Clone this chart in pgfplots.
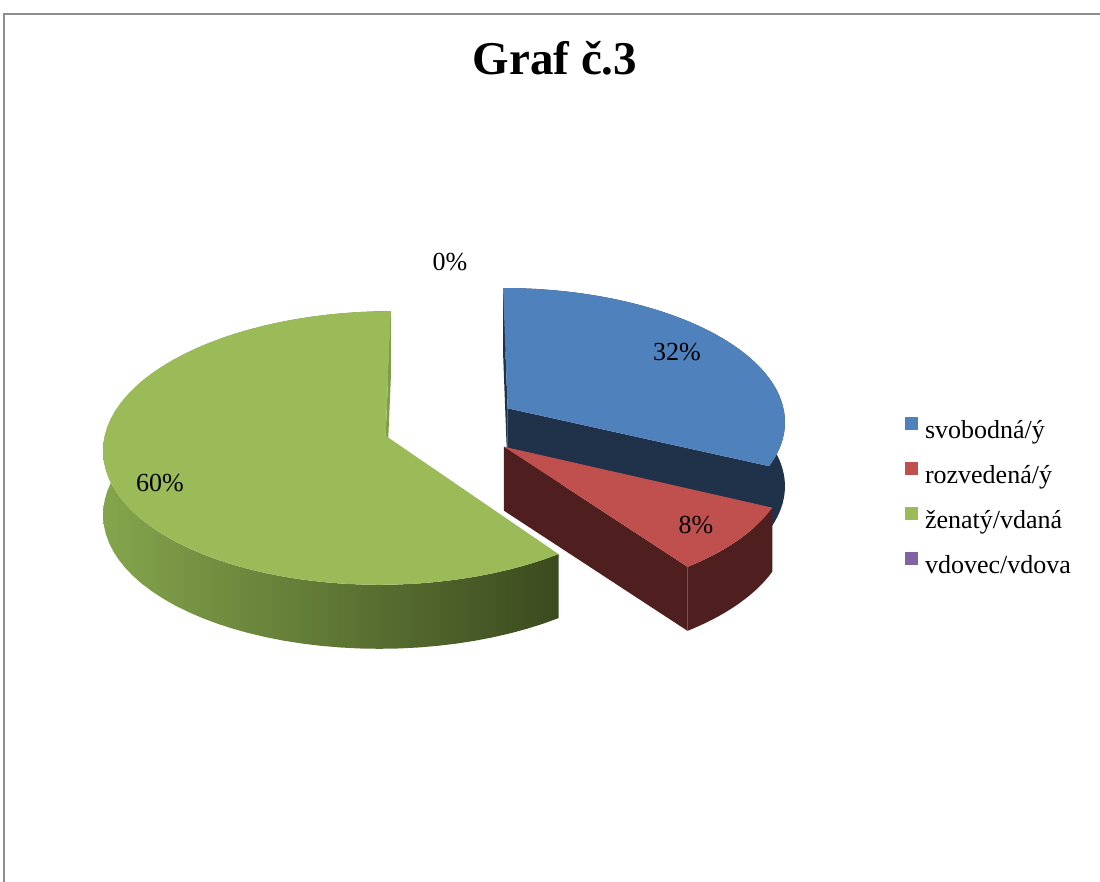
\documentclass[border=0pt]{standalone}
\usepackage{fontspec}
\setmainfont{Liberation Serif}
\usepackage{pgfplots}
\usepackage{pgfplotstable}
\pgfplotsset{compat=1.18}
\definecolor{cblue}{HTML}{4F81BD}
\definecolor{cred}{HTML}{C0504D}
\definecolor{cgreen}{HTML}{9BBB59}
\definecolor{cpurple}{HTML}{8064A2}
\definecolor{dblue}{HTML}{1F324A}
\definecolor{dred}{HTML}{4F1F1F}
\definecolor{gleft}{HTML}{84A54C}
\definecolor{gright}{HTML}{3B4A1E}
\definecolor{gsliver}{HTML}{7F9C47}
\definecolor{framec}{HTML}{8E8E8E}

\pgfplotstableread{
label value
svobodna 32
rozvedena 8
zenaty 60
vdovec 0
}\piedata

\pgfplotstablegetelem{0}{value}\of\piedata \pgfmathsetmacro\vA{\pgfplotsretval}
\pgfplotstablegetelem{1}{value}\of\piedata \pgfmathsetmacro\vB{\pgfplotsretval}
\pgfplotstablegetelem{2}{value}\of\piedata \pgfmathsetmacro\vC{\pgfplotsretval}
\pgfplotstablegetelem{3}{value}\of\piedata \pgfmathsetmacro\vD{\pgfplotsretval}
\pgfmathsetmacro\aA{0}
\pgfmathsetmacro\aB{3.6*\vA}
\pgfmathsetmacro\aC{3.6*(\vA+\vB)}
\pgfmathsetmacro\aD{3.6*(\vA+\vB+\vC)}
\def\Kx{0.244}
\pgfmathsetmacro\xA{\Kx*sin((\aA+\aB)/2)}\pgfmathsetmacro\yA{\Kx*cos((\aA+\aB)/2)}
\pgfmathsetmacro\xB{\Kx*sin((\aB+\aC)/2)}\pgfmathsetmacro\yB{\Kx*cos((\aB+\aC)/2)}
\pgfmathsetmacro\xC{\Kx*sin((\aC+\aD)/2)}\pgfmathsetmacro\yC{\Kx*cos((\aC+\aD)/2)}
\def\Dp{64}

% sample lists
\def\wallsamples{0}
\foreach \i in {1,...,60}{\pgfmathsetmacro\v{\i/60}\xdef\wallsamples{\wallsamples,\v}}
\xdef\wallsamples{\wallsamples,1.00001}
\foreach \i in {1,...,60}{\pgfmathsetmacro\v{1+\i/60}\xdef\wallsamples{\wallsamples,\v}}
\def\topsamples{-1,0}
\foreach \i in {1,...,60}{\pgfmathsetmacro\v{\i/60}\xdef\topsamples{\topsamples,\v}}

% #1 ta, #2 tb, #3 ox, #4 oy, #5 style
\newcommand\wall[5]{%
\addplot[forget plot, draw=none, #5, samples at=\wallsamples, variable=\s]
 ({PX(#3+sin(#1+(#2-#1)*min(\s,2-\s)), #4+cos(#1+(#2-#1)*min(\s,2-\s)))},
  {PY(#3+sin(#1+(#2-#1)*min(\s,2-\s)), #4+cos(#1+(#2-#1)*min(\s,2-\s))) + \Dp*(\s>1)}) -- cycle;
}
% #1 th, #2 ox, #3 oy, #4 colour
\newcommand\radial[4]{%
\addplot[forget plot, draw=none, fill=#4, samples at={0,1,2,3}, variable=\s]
 ({PX(#2+(\s>0.5)*(\s<2.5)*sin(#1), #3+(\s>0.5)*(\s<2.5)*cos(#1))},
  {PY(#2+(\s>0.5)*(\s<2.5)*sin(#1), #3+(\s>0.5)*(\s<2.5)*cos(#1)) + \Dp*(\s>1.5)}) -- cycle;
}
% #1 ta, #2 tb, #3 ox, #4 oy, #5 colour
\newcommand\topface[5]{%
\addplot[forget plot, draw=none, fill=#5, samples at=\topsamples, variable=\s]
 ({PX(#3+(\s>-0.5)*sin(#1+(#2-#1)*max(\s,0)), #4+(\s>-0.5)*cos(#1+(#2-#1)*max(\s,0)))},
  {PY(#3+(\s>-0.5)*sin(#1+(#2-#1)*max(\s,0)), #4+(\s>-0.5)*cos(#1+(#2-#1)*max(\s,0)))}) -- cycle;
}

\begin{document}
\begin{tikzpicture}
\begin{axis}[
  scale only axis, width=550pt, height=441pt,
  xmin=0, xmax=1100, ymin=0, ymax=882, y dir=reverse,
  hide axis, clip=false,
  declare function={
    PX(\X,\V)=450.8+279*\X/(1+0.0889*\V);
    PY(\X,\V)=425.6-133.9*\V/(1+0.0889*\V);
  },
  legend image code/.code={\fill[#1, draw=none] (0pt,1.25pt) rectangle (6.5pt,7.75pt);},
  legend style={at={(axis cs:905,416.5)}, anchor=north west, draw=none, fill=none,
    inner sep=0pt, outer sep=0pt, font=\fontsize{13}{15}\selectfont,
    row sep=8.9pt, nodes={inner sep=0pt, text height=9pt, text depth=3pt},
    /tikz/every odd column/.append style={column sep=3.5pt}},
  legend cell align=left,
]
% frame
\draw[framec, line width=1pt] (axis cs:4.5,900) -- (axis cs:4.5,14) -- (axis cs:1120,14);

% blue slice
\wall{\aA}{\aB}{\xA}{\yA}{fill=dblue}
\radial{\aA}{\xA}{\yA}{dblue}
\radial{\aB}{\xA}{\yA}{dblue}
\topface{\aA}{\aB}{\xA}{\yA}{cblue}
% red slice
\wall{\aB}{\aC}{\xB}{\yB}{fill=dred}
\radial{\aC}{\xB}{\yB}{dred}
\topface{\aB}{\aC}{\xB}{\yB}{cred}
% green slice
\wall{\aC}{\aD}{\xC}{\yC}{left color=gleft, right color=gright}
\radial{\aD}{\xC}{\yC}{gsliver}
\topface{\aC}{\aD}{\xC}{\yC}{cgreen}

\addlegendimage{fill=cblue}\addlegendentry{svobodná/ý}
\addlegendimage{fill=cred}\addlegendentry{rozvedená/ý}
\addlegendimage{fill=cgreen}\addlegendentry{ženatý/vdaná}
\addlegendimage{fill=cpurple}\addlegendentry{vdovec/vdova}

% labels
\node[font=\fontsize{13}{15}\selectfont] at (axis cs:677,352) {32\%};
\node[font=\fontsize{13}{15}\selectfont] at (axis cs:696,525) {8\%};
\node[font=\fontsize{13}{15}\selectfont] at (axis cs:160,483) {60\%};
\node[font=\fontsize{13}{15}\selectfont] at (axis cs:450,262) {0\%};
% title
\node[font=\fontsize{23.5}{28}\selectfont\bfseries, anchor=base] at (axis cs:555,75) {Graf č.3};
\end{axis}
\pgfresetboundingbox
\path (current axis.south west) rectangle (current axis.north east);
\end{tikzpicture}
\end{document}
